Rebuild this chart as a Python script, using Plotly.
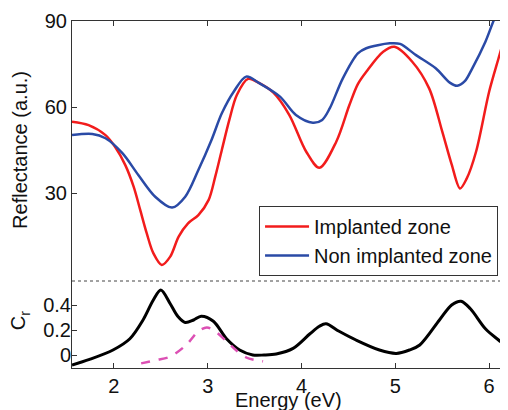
import plotly.graph_objects as go

# Reflectance data (top panel)
e_impl = [1.553, 1.73, 1.91, 2.01, 2.12, 2.21, 2.28, 2.35, 2.42, 2.51, 2.60, 2.69, 2.79, 2.90, 3.01, 3.08,
          3.15, 3.23, 3.31, 3.43, 3.55, 3.70, 3.87, 4.05, 4.19, 4.37, 4.51, 4.60, 4.69, 4.87, 4.99,
          5.18, 5.36, 5.50, 5.60, 5.69, 5.76, 5.86, 6.00, 6.10, 6.18, 6.22]
r_impl = [54.9, 53.7, 50.2, 46.2, 39.8, 32.2, 24.1, 15.9, 9.0, 4.9, 7.8, 14.8, 19.4, 22.3, 27.6, 35.7,
          45.0, 55.5, 64.2, 69.8, 68.3, 65.0, 57.2, 44.4, 38.8, 47.9, 60.7, 68.0, 72.3, 79.3, 81.0,
          75.8, 66.5, 51.4, 40.0, 31.6, 35.0, 44.4, 65.4, 77.0, 86.0, 90.0]

e_non = [1.553, 1.77, 1.91, 2.09, 2.26, 2.44, 2.62, 2.76, 2.90, 3.04, 3.15, 3.28, 3.41, 3.55, 3.77, 3.94,
         4.12, 4.22, 4.30, 4.44, 4.60, 4.69, 4.94, 5.05, 5.22, 5.43, 5.58, 5.66, 5.74, 5.82, 5.96,
         6.05, 6.12, 6.22]
r_non = [50.2, 50.6, 49.1, 43.9, 36.3, 28.7, 24.9, 28.7, 38.0, 48.5, 57.8, 65.5, 70.6, 68.3, 63.6, 57.2,
         54.5, 55.5, 59.5, 70.0, 78.7, 80.5, 82.2, 82.0, 78.1, 73.5, 68.5, 67.4, 69.0, 73.5, 82.8,
         90.3, 95.0, 100.0]

# C_r data (bottom panel)
e_cr = [1.553, 1.74, 1.99, 2.17, 2.31, 2.42, 2.50, 2.60, 2.68, 2.76, 2.85, 2.93, 3.06, 3.20, 3.34, 3.48,
        3.60, 3.73, 3.91, 4.09, 4.19, 4.26, 4.40, 4.58, 4.83, 5.01, 5.15, 5.26, 5.47, 5.60, 5.70,
        5.80, 5.96, 6.10, 6.20]
cr = [-0.08, -0.035, 0.04, 0.13, 0.28, 0.44, 0.52, 0.41, 0.31, 0.26, 0.28, 0.31, 0.27, 0.13, 0.04, 0.0,
      0.0, 0.008, 0.053, 0.17, 0.23, 0.25, 0.19, 0.12, 0.04, 0.013, 0.04, 0.08, 0.28, 0.40, 0.43,
      0.37, 0.21, 0.12, 0.06]

e_fit = [2.29, 2.45, 2.60, 2.77, 2.90, 2.99, 3.06, 3.20, 3.30, 3.41, 3.50, 3.59]
cr_fit = [-0.067, -0.04, -0.013, 0.08, 0.19, 0.22, 0.20, 0.11, 0.04, -0.02, -0.04, -0.05]

x_ticks = [2, 3, 4, 5, 6]
refl_ticks = [30, 60, 90]
cr_ticks = [0, 0.2, 0.4]
cr_ticktext = ["0", "0.2", "0.4"]

FONT = "Liberation Sans, Arial, sans-serif"
FS = 20
RED = "#f21c1c"
BLUE = "#2a4aa6"
BLACK = "#000000"
MAGENTA = "#dc50b4"
SM = 0.9

fig = go.Figure()
fig.add_trace(go.Scatter(x=e_impl, y=r_impl, mode="lines", name="Implanted zone",
                         line=dict(color=RED, width=2.5, shape="spline", smoothing=SM), yaxis="y"))
fig.add_trace(go.Scatter(x=e_non, y=r_non, mode="lines", name="Non implanted zone",
                         line=dict(color=BLUE, width=2.5, shape="spline", smoothing=SM), yaxis="y"))
fig.add_trace(go.Scatter(x=e_cr, y=cr, mode="lines", showlegend=False,
                         line=dict(color=BLACK, width=3, shape="spline", smoothing=SM), yaxis="y2"))
fig.add_trace(go.Scatter(x=e_fit, y=cr_fit, mode="lines", showlegend=False,
                         line=dict(color=MAGENTA, width=2.5, dash="dash", shape="spline", smoothing=SM),
                         yaxis="y2"))

axis_common = dict(showgrid=False, zeroline=False, ticks="inside", ticklen=5, tickcolor="#333",
                   linecolor="#333", linewidth=1, tickfont=dict(family=FONT, size=FS, color="#111"))

fig.update_layout(
    width=500, height=402,
    margin=dict(l=64, r=1, t=13, b=42),
    paper_bgcolor="white", plot_bgcolor="white",
    font=dict(family=FONT, size=FS, color="#111"),
    xaxis=dict(range=[1.553, 6.19], tickvals=x_ticks, showline=True, mirror="ticks",
               anchor="y", **axis_common),
    yaxis=dict(range=[-31.05, 90], tickvals=refl_ticks, showline=True, mirror="ticks",
               domain=[0, 1], **axis_common),
    yaxis2=dict(range=[-0.104, 2.672], tickvals=cr_ticks, ticktext=cr_ticktext, showline=False,
                overlaying="y", side="left", anchor="x", **axis_common),
    legend=dict(x=0.43, y=0.467, xanchor="left", yanchor="top", bgcolor="white",
                bordercolor="#333", borderwidth=1, font=dict(family=FONT, size=FS, color="#111"),
                tracegroupgap=0, itemwidth=44),
    showlegend=True,
    shapes=[dict(type="line", xref="paper", yref="paper", x0=0, x1=1, y0=0.2507, y1=0.2507,
                 line=dict(color="#444", width=1, dash="dot"))],
    annotations=[
        dict(text="Reflectance (a.u.)", xref="paper", yref="paper", x=-0.12, y=0.628,
             xanchor="center", yanchor="middle",
             textangle=-90, showarrow=False, font=dict(family=FONT, size=FS, color="#111")),
        dict(text="C<sub>r</sub>", xref="paper", yref="paper", x=-0.12, y=0.137,
             xanchor="center", yanchor="middle",
             textangle=-90, showarrow=False, font=dict(family=FONT, size=FS, color="#111")),
        dict(text="Energy (eV)", xref="paper", yref="paper", x=0.497, y=-0.092,
             xanchor="center", yanchor="middle", showarrow=False,
             font=dict(family=FONT, size=FS, color="#111")),
    ],
)

fig.write_html("out.html")
